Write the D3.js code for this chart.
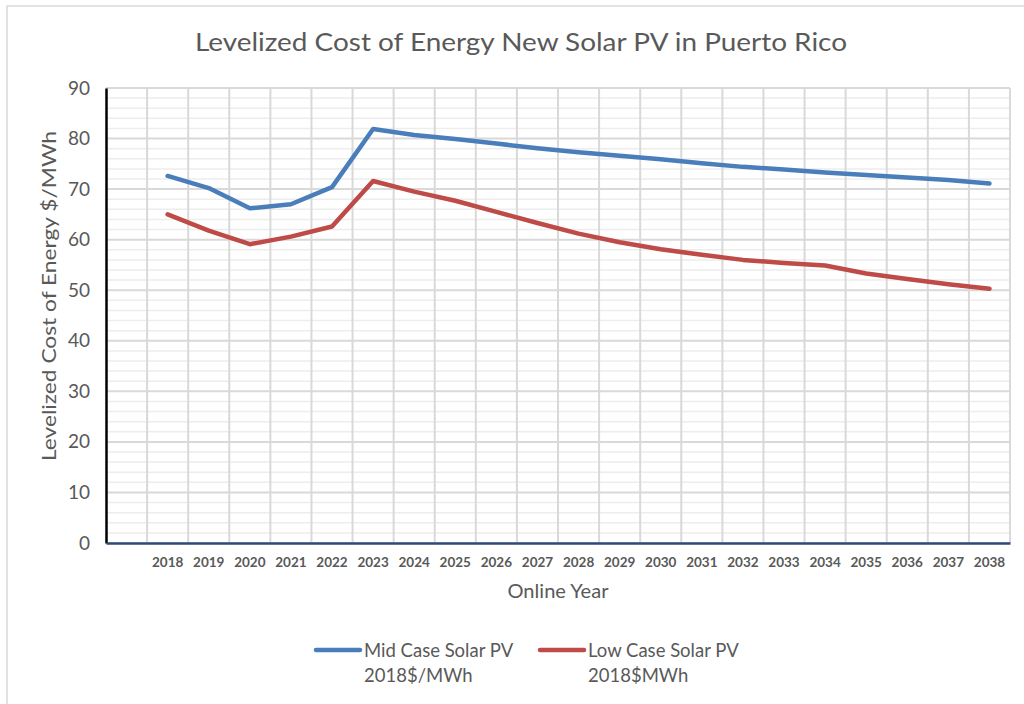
<!DOCTYPE html>
<html>
<head>
<meta charset="utf-8">
<script src="https://cdn.jsdelivr.net/npm/d3@7"></script>
<style>
  body { margin: 0; background: #fff; }
  text { font-family: Lato, "Open Sans", sans-serif; fill: #595959; }
</style>
</head>
<body>
<div class="container"></div>
<script>
// chart data
const years = ["2018", "2019", "2020", "2021", "2022", "2023", "2024", "2025", "2026", "2027", "2028",
  "2029", "2030", "2031", "2032", "2033", "2034", "2035", "2036", "2037", "2038"]
const midCase = [72.6, 70.2, 66.2, 67.0, 70.4, 81.9, 80.7, 79.9, 79.0, 78.1, 77.3,
  76.6, 75.9, 75.1, 74.4, 73.9, 73.3, 72.8, 72.3, 71.8, 71.1]
const lowCase = [65.0, 61.8, 59.1, 60.6, 62.6, 71.6, 69.5, 67.7, 65.5, 63.3, 61.2,
  59.5, 58.1, 57.0, 56.0, 55.4, 54.9, 53.3, 52.2, 51.2, 50.3]
const yTicks = [0, 10, 20, 30, 40, 50, 60, 70, 80, 90]
const seriesNames = [["Mid Case Solar PV", "2018$/MWh"], ["Low Case Solar PV", "2018$MWh"]]
const colors = ["#4a7ebb", "#be4b48"]

const w = 1024
const h = 704
const plotLeft = 106, plotRight = 1010, plotTop = 88, plotBottom = 543

const svg = d3.select(".container")
  .append("svg")
  .attr("width", w)
  .attr("height", h)

// chart border
svg.append("rect")
  .attr("x", 7).attr("y", 6)
  .attr("width", 1100).attr("height", 800)
  .attr("fill", "none")
  .attr("stroke", "#d9d9d9")
  .attr("stroke-width", 1.5)

// first category is empty in the source sheet
const xScale = d3.scaleBand().domain([""].concat(years)).range([plotLeft, plotRight])
const yScale = d3.scaleLinear().domain([0, 90]).range([plotBottom, plotTop])

// minor gridlines
svg.append("g")
  .selectAll("line")
  .data(d3.range(0, 91, 2).filter(v => v % 10 !== 0))
  .enter()
  .append("line")
  .attr("x1", plotLeft).attr("x2", plotRight)
  .attr("y1", d => yScale(d)).attr("y2", d => yScale(d))
  .attr("stroke", "#ededed")
  .attr("stroke-width", 1.5)

// major gridlines
svg.append("g")
  .selectAll("line")
  .data(yTicks)
  .enter()
  .append("line")
  .attr("x1", plotLeft).attr("x2", plotRight)
  .attr("y1", d => yScale(d)).attr("y2", d => yScale(d))
  .attr("stroke", "#d9d9d9")
  .attr("stroke-width", 2)

// vertical gridlines at category edges
svg.append("g")
  .selectAll("line")
  .data(years)
  .enter()
  .append("line")
  .attr("x1", d => xScale(d)).attr("x2", d => xScale(d))
  .attr("y1", plotTop).attr("y2", plotBottom)
  .attr("stroke", "#d9d9d9")
  .attr("stroke-width", 2)

svg.append("line")
  .attr("x1", plotRight).attr("x2", plotRight)
  .attr("y1", plotTop).attr("y2", plotBottom)
  .attr("stroke", "#d9d9d9")
  .attr("stroke-width", 2)

// axes
const yAxis = d3.axisLeft(yScale).tickValues(yTicks).tickSize(0).tickPadding(16)
const yG = svg.append("g")
  .attr("transform", "translate(" + plotLeft + ",0)")
  .call(yAxis)
yG.select(".domain").attr("stroke", "#000").attr("stroke-width", 2.5)
yG.selectAll("text").style("font-size", "19px")

const xAxis = d3.axisBottom(xScale).tickValues(years).tickSize(0).tickPadding(14)
const xG = svg.append("g")
  .attr("transform", "translate(0," + plotBottom + ")")
  .call(xAxis)
xG.select(".domain").attr("stroke", "#2f4a78").attr("stroke-width", 2.5)
xG.selectAll("text").style("font-size", "13.5px").style("font-weight", "bold")

// lines
const line = d3.line()
  .x((d, i) => xScale(years[i]) + xScale.bandwidth() / 2)
  .y(d => yScale(d))

;[midCase, lowCase].forEach((s, i) => {
  svg.append("path")
    .datum(s)
    .attr("d", line)
    .attr("fill", "none")
    .attr("stroke", colors[i])
    .attr("stroke-width", 4.5)
    .attr("stroke-linecap", "round")
    .attr("stroke-linejoin", "round")
})

// titles
svg.append("text")
  .attr("x", 521).attr("y", 51)
  .style("text-anchor", "middle")
  .style("font-size", "25px")
  .attr("textLength", 652)
  .attr("lengthAdjust", "spacingAndGlyphs")
  .text("Levelized Cost of Energy New Solar PV in Puerto Rico")

svg.append("text")
  .attr("x", (plotLeft + plotRight) / 2).attr("y", 598)
  .style("text-anchor", "middle")
  .style("font-size", "19px")
  .attr("textLength", 101)
  .attr("lengthAdjust", "spacingAndGlyphs")
  .text("Online Year")

svg.append("text")
  .attr("transform", "rotate(-90)")
  .attr("x", -296).attr("y", 56)
  .style("text-anchor", "middle")
  .style("font-size", "19px")
  .attr("textLength", 330)
  .attr("lengthAdjust", "spacingAndGlyphs")
  .text("Levelized Cost of Energy $/MWh")

// legend
const legendX = [316, 540]
seriesNames.forEach((names, i) => {
  svg.append("line")
    .attr("x1", legendX[i]).attr("x2", legendX[i] + 44)
    .attr("y1", 650).attr("y2", 650)
    .attr("stroke", colors[i])
    .attr("stroke-width", 4.5)
    .attr("stroke-linecap", "round")
  svg.append("text")
    .attr("x", legendX[i] + 48).attr("y", 657)
    .style("font-size", "18.5px")
    .text(names[0])
  svg.append("text")
    .attr("x", legendX[i] + 48).attr("y", 682)
    .style("font-size", "18.5px")
    .text(names[1])
})
</script>
</body>
</html>
